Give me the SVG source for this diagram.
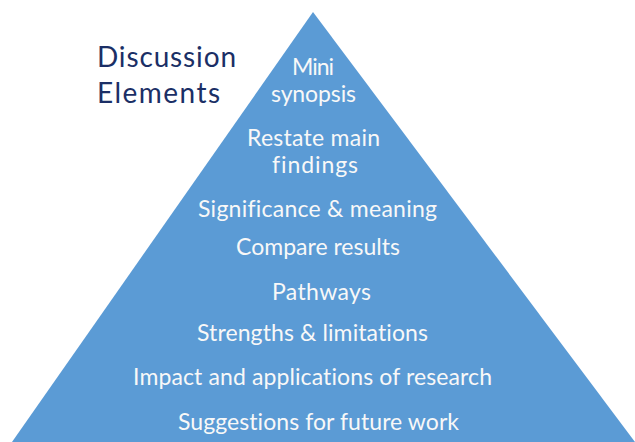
<svg xmlns="http://www.w3.org/2000/svg" width="635" height="442" viewBox="0 0 635 442">
<style>
.tri{fill:#5B9BD5;}
.t{font-family:Lato,"Open Sans","Liberation Sans",sans-serif;font-size:23px;fill:#F8F8F8;text-anchor:middle;font-variant-ligatures:none;}
.h{font-family:Lato,"Open Sans","Liberation Sans",sans-serif;font-size:28px;fill:#1B2F66;font-variant-ligatures:none;}
</style>
<rect width="635" height="442" fill="#FFFFFF"/>
<g id="pyramid"><polygon class="tri" points="313,12 12,442 635,442"/></g>
<g id="title">
<text class="h" x="97" y="67" textLength="139" lengthAdjust="spacing">Discussion</text>
<text class="h" x="97" y="103" textLength="123" lengthAdjust="spacing">Elements</text>
</g>
<g id="connectors"></g>
<g id="n1"><text class="t" x="313" y="75" textLength="42">Mini</text><text class="t" x="313.5" y="102" textLength="85">synopsis</text></g>
<g id="n2"><text class="t" x="313.5" y="146" textLength="133">Restate main</text><text class="t" x="315" y="173" textLength="86">findings</text></g>
<g id="n3"><text class="t" x="317.5" y="217" textLength="239">Significance &amp; meaning</text></g>
<g id="n4"><text class="t" x="318" y="255" textLength="164">Compare results</text></g>
<g id="n5"><text class="t" x="321.5" y="300" textLength="99">Pathways</text></g>
<g id="n6"><text class="t" x="312.5" y="341" textLength="231">Strengths &amp; limitations</text></g>
<g id="n7"><text class="t" x="312.5" y="385" textLength="359">Impact and applications of research</text></g>
<g id="n8"><text class="t" x="318.5" y="430" textLength="281">Suggestions for future work</text></g>
</svg>
